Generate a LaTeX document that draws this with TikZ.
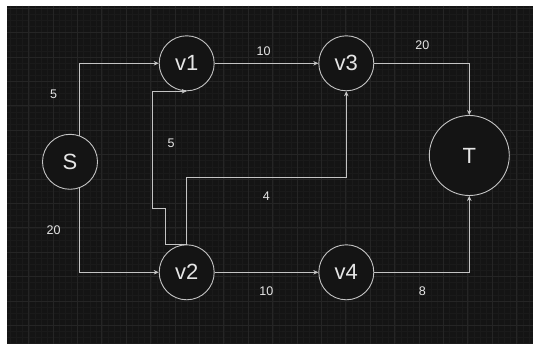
\documentclass[tikz,border=0pt]{standalone}
\usepackage{fontspec}
\setmainfont{Liberation Sans}
\usetikzlibrary{arrows.meta}
\definecolor{bgdark}{HTML}{141414}
\definecolor{gridminor}{HTML}{1A1A1A}
\definecolor{gridmajor}{HTML}{252525}
\definecolor{linec}{HTML}{C4C4C4}
\definecolor{textc}{HTML}{E6E6E6}
\tikzset{
  vert/.style={circle, draw=linec, line width=0.9pt, fill=bgdark, inner sep=0pt,
    minimum size=55pt, text=textc, font=\fontsize{22}{26}\selectfont},
  bigvert/.style={vert, minimum size=80pt},
  edge/.style={draw=linec, line width=0.8pt, -{Stealth[length=5pt,width=4.5pt]}},
  wlabel/.style={text=textc, font=\fontsize{12.5}{15}\selectfont, inner sep=0pt}
}
\begin{document}
\begin{tikzpicture}[x=1pt, y=-1pt]
\useasboundingbox (0,0) rectangle (533,344);
\fill[white] (0,0) rectangle (533,344);
\fill[bgdark] (7,6) rectangle (533,344);
\begin{scope}
  \clip (7,6) rectangle (533,344);
  \foreach \i in {-2,...,88} {
    \draw[gridminor, line width=0.5pt] ({4.4+6.1*\i},6) -- ({4.4+6.1*\i},344);
  }
  \foreach \i in {-2,...,58} {
    \draw[gridminor, line width=0.5pt] (7,{8.2+6.1*\i}) -- (533,{8.2+6.1*\i});
  }
  \foreach \i in {0,...,22} {
    \draw[gridmajor, line width=0.7pt] ({4.2+24.4*\i},6) -- ({4.2+24.4*\i},344);
  }
  \foreach \i in {0,...,14} {
    \draw[gridmajor, line width=0.7pt] (7,{8.2+24.4*\i}) -- (533,{8.2+24.4*\i});
  }
\end{scope}

\node[vert] (S) at (70,161.8) {S};
\node[vert] (v1) at (186.7,63.3) {v1};
\node[vert] (v3) at (346.3,63.3) {v3};
\node[vert] (v2) at (186.7,272.3) {v2};
\node[vert] (v4) at (346.3,272.3) {v4};
\node[bigvert] (T) at (469.3,155.5) {T};

\coordinate (c1) at (186.7,177.3);
\coordinate (b2) at (165,208.3);
\coordinate (b3) at (152.7,208.3);

\draw[edge] (S.70) |- (v1.west);
\draw[edge] (S.-70) |- (v2.west);
\draw[edge] (v1.east) -- (v3.west);
\draw[edge] (v3.east) -| (T.north);
\draw[edge] (v2.east) -- (v4.west);
\draw[edge] (v4.east) -| (T.south);
\draw[edge] (v2.north) -- (c1) -| (v3.south);
\draw[edge] (v2.north) -| (b2) -- (b3) |- (v1.south);

\node[wlabel] (l1) at (53.7,94.3) {5};
\node[wlabel] (l2) at (53.7,230) {20};
\node[wlabel] (l3) at (263.6,51) {10};
\node[wlabel] (l4) at (422.4,45) {20};
\node[wlabel] (l5) at (171,143.3) {5};
\node[wlabel] (l6) at (266.3,196.7) {4};
\node[wlabel] (l7) at (266.3,291) {10};
\node[wlabel] (l8) at (422.4,291) {8};
\end{tikzpicture}
\end{document}
